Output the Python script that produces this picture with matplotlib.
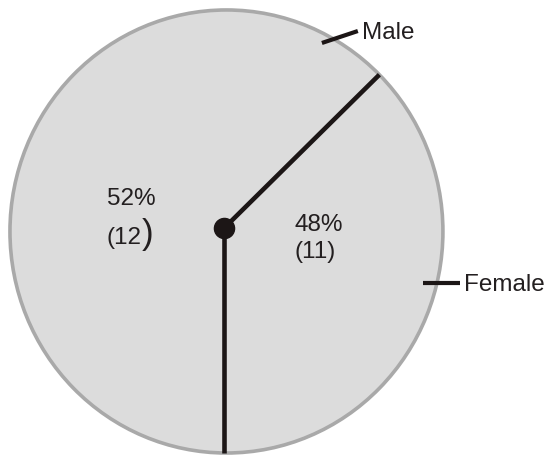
import numpy as np
import matplotlib
matplotlib.use("Agg")
import matplotlib.pyplot as plt
from matplotlib.patches import Circle

# Data
categories = ["Female", "Male"]
counts = [11, 12]
percent_labels = ["48%", "52%"]
count_labels = ["(11)", "(12)"]

# Style
plt.rcParams["font.family"] = ["Liberation Sans", "DejaVu Sans"]
fill_color = "#dcdcdc"
rim_color = "#a9a9a9"
ink = "#1c1616"
text_color = "#231f20"
divider_angles = [44, -90]   # degrees, drawn from the hub to the rim

fig = plt.figure(figsize=(5.49, 4.55), dpi=100)
ax = fig.add_axes([0, 0, 1, 1])

# Pie body (both slices share one fill; divisions are drawn as bold spokes)
ax.pie(counts, colors=[fill_color] * len(counts), startangle=-90,
       counterclock=True, radius=1.0, center=(0, 0), frame=True,
       wedgeprops=dict(linewidth=1.0, edgecolor=fill_color))
ax.add_patch(Circle((0, 0), 1.0, fill=False, edgecolor=rim_color,
                    linewidth=2.6, zorder=3))

# Spokes (hub to rim intersection) and hub
hub = np.array([-0.012, 0.014])
for ang in divider_angles:
    t = np.deg2rad(ang)
    d = np.array([np.cos(t), np.sin(t)])
    b = hub @ d
    s = -b + np.sqrt(b * b - (hub @ hub - 1.0))
    end = hub + s * d
    ax.plot([hub[0], end[0]], [hub[1], end[1]], color=ink,
            linewidth=3.3, solid_capstyle="butt", zorder=4)
ax.plot([hub[0]], [hub[1]], marker="o", markersize=14.5, color=ink, zorder=5)

# Slice value labels
fs = 17.5
ax.text(-0.552, 0.120, percent_labels[1], fontsize=fs, color=text_color,
        ha="left", va="baseline", zorder=6)
ax.text(-0.552, -0.056, count_labels[1][:-1], fontsize=fs, color=text_color,
        ha="left", va="baseline", zorder=6)
ax.text(-0.393, -0.056, count_labels[1][-1], fontsize=25, color=text_color,
        ha="left", va="baseline", zorder=6)
ax.text(0.316, 0.002, percent_labels[0], fontsize=fs, color=text_color,
        ha="left", va="baseline", zorder=6)
ax.text(0.316, -0.120, count_labels[0], fontsize=fs, color=text_color,
        ha="left", va="baseline", zorder=6)

# Category call-outs with leader lines
ax.plot([0.441, 0.607], [0.851, 0.905], color=ink, linewidth=3.0,
        solid_capstyle="butt", zorder=4, clip_on=False)
ax.text(0.626, 0.869, categories[1], fontsize=fs, color=text_color,
        ha="left", va="baseline", zorder=6)
ax.plot([0.908, 1.078], [-0.233, -0.233], color=ink, linewidth=3.0,
        solid_capstyle="butt", zorder=4, clip_on=False)
ax.text(1.097, -0.269, categories[0], fontsize=fs, color=text_color,
        ha="left", va="baseline", zorder=6)

ax.set_aspect("auto")
ax.set_xlim(-1.046, 1.490)
ax.set_ylim(-1.009, 1.045)
ax.axis("off")

fig.savefig("out.png", dpi=100, facecolor="white")
